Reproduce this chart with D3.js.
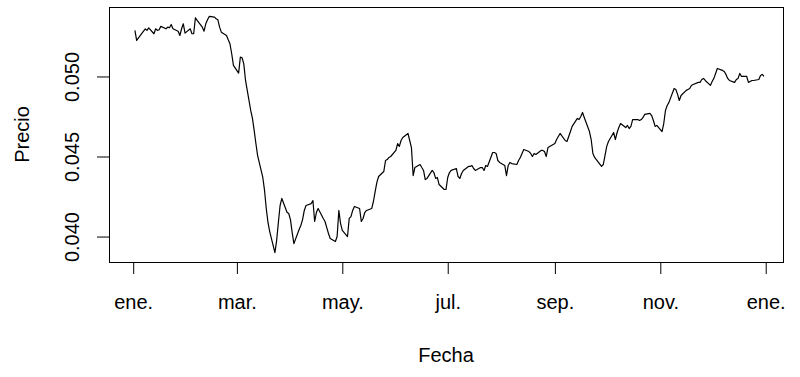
<!DOCTYPE html>
<html>
<head>
<meta charset="utf-8">
<script src="https://cdn.jsdelivr.net/npm/d3@7"></script>
<style>
  body { margin: 0; background: #fff; }
  text { font-family: "Liberation Sans", Arial, sans-serif; fill: #000; }
</style>
</head>
<body>
<div id="chart"></div>
<script>
// Precio diario (días hábiles, 2 ene 2020 - 31 dic 2020)
var precio = [
  0.05288, 0.05225,
  0.05269, 0.05283, 0.05297, 0.05288, 0.05303,
  0.05267, 0.05298, 0.05288, 0.05292, 0.05313,
  0.05298, 0.05308, 0.05304, 0.05325, 0.05298,
  0.05283, 0.05256, 0.05298, 0.05329, 0.05271,
  0.05298, 0.05267, 0.05267, 0.05367, 0.05350,
  0.05308, 0.05283, 0.05329, 0.05354, 0.05375,
  0.05371, 0.05361, 0.05354, 0.05308, 0.05277,
  0.05256, 0.05229, 0.05204, 0.05142, 0.05069,
  0.05021, 0.05121, 0.05117, 0.05079, 0.04975,
  0.04788, 0.04738, 0.04663, 0.04581, 0.04506,
  0.04369, 0.04288, 0.04175, 0.04088, 0.04031,
  0.03900, 0.03975, 0.04088, 0.04194, 0.04238,
  0.04152, 0.04144, 0.04106, 0.04025, 0.03956,
  0.04044, 0.04069, 0.04106, 0.04163, 0.04194,
  0.04206, 0.04225, 0.04094, 0.04150, 0.04175,
  0.04113, 0.04094, 0.04056, 0.04019, 0.03988,
  0.03969, 0.04000, 0.04163, 0.04081, 0.04038,
  0.04000, 0.04113, 0.04125, 0.04163, 0.04188,
  0.04175, 0.04094, 0.04113, 0.04150, 0.04163,
  0.04175, 0.04219, 0.04281, 0.04338, 0.04375,
  0.04406, 0.04475, 0.04481, 0.04494, 0.04500,
  0.04538, 0.04581, 0.04563, 0.04600, 0.04619,
  0.04644, 0.04600, 0.04556, 0.04381, 0.04431,
  0.04450, 0.04431, 0.04413, 0.04356, 0.04363,
  0.04413, 0.04400, 0.04363, 0.04369, 0.04325,
  0.04294, 0.04294, 0.04369, 0.04400, 0.04413,
  0.04425, 0.04375, 0.04363, 0.04394, 0.04413,
  0.04438, 0.04438, 0.04444, 0.04425, 0.04413,
  0.04431, 0.04431, 0.04413, 0.04444, 0.04438,
  0.04525, 0.04525, 0.04519, 0.04475, 0.04463,
  0.04444, 0.04381, 0.04444, 0.04463, 0.04456,
  0.04450, 0.04475, 0.04494, 0.04519, 0.04544,
  0.04531, 0.04519, 0.04500, 0.04519, 0.04513,
  0.04538, 0.04538, 0.04531, 0.04500, 0.04556,
  0.04575, 0.04581, 0.04606, 0.04625, 0.04644,
  0.04600, 0.04594, 0.04625, 0.04656, 0.04688,
  0.04738, 0.04731, 0.04750, 0.04775, 0.04744,
  0.04656, 0.04606, 0.04519, 0.04494, 0.04481,
  0.04438, 0.04450, 0.04506, 0.04563, 0.04594,
  0.04650, 0.04606, 0.04650, 0.04681, 0.04706,
  0.04681, 0.04694, 0.04675, 0.04688, 0.04731,
  0.04731, 0.04725, 0.04731, 0.04744, 0.04763,
  0.04769, 0.04756, 0.04725, 0.04688, 0.04694,
  0.04656, 0.04706, 0.04788, 0.04819, 0.04838,
  0.04925, 0.04919, 0.04888, 0.04850, 0.04881,
  0.04913, 0.04919, 0.04925, 0.04944, 0.04950,
  0.04963, 0.04963, 0.04981, 0.04988, 0.04975,
  0.04944, 0.04969, 0.04988, 0.05019, 0.05050,
  0.05038, 0.05031, 0.05013, 0.04988, 0.04975,
  0.04963, 0.04981, 0.04988, 0.05019, 0.05000,
  0.05000, 0.04963, 0.04969, 0.04975, 0.04975,
  0.04981, 0.05006, 0.05013, 0.05000
];

var fechaInicio = "2020-01-02";
var fechaFin = "2020-12-31";
var xLimites = ["2019-12-18", "2021-01-11"];

var xTickFechas = ["2020-01-01", "2020-03-01", "2020-05-01", "2020-07-01", "2020-09-01", "2020-11-01", "2021-01-01"];
var xTickLabels = ["ene.", "mar.", "may.", "jul.", "sep.", "nov.", "ene."];
var yTicks = [0.040, 0.045, 0.050];
var yTickLabels = ["0.040", "0.045", "0.050"];

var tituloX = "Fecha";
var tituloY = "Precio";

// dias habiles (lun-vie)
var fechas = d3.utcDay.range(new Date(fechaInicio), d3.utcDay.offset(new Date(fechaFin), 1))
    .filter(function (d) { return d.getUTCDay() % 6 !== 0; });

var n = Math.min(fechas.length, precio.length);
var data = [];
for (var i = 0; i < n; i++) {
    data.push({ fecha: fechas[i], precio: precio[i] });
}

var width = 800,
    height = 377;
var box = { left: 109, right: 783, top: 7, bottom: 262 };

var svg = d3.select("#chart")
    .append("svg")
    .attr("width", width)
    .attr("height", height);

var x = d3.scaleUtc()
    .domain(xLimites.map(function (d) { return new Date(d); }))
    .range([box.left, box.right]);

// rango como en R: extension del 4%
var ext = d3.extent(precio);
var pad = (ext[1] - ext[0]) * 0.04;
var y = d3.scaleLinear()
    .domain([ext[0] - pad, ext[1] + pad])
    .range([box.bottom, box.top]);

// linea
var line = d3.line()
    .x(function (d) { return x(d.fecha); })
    .y(function (d) { return y(d.precio); });

svg.append("path")
    .datum(data)
    .attr("d", line)
    .attr("fill", "none")
    .attr("stroke", "#000")
    .attr("stroke-width", 1.2)
    .attr("stroke-linejoin", "round");

// eje x
var xAxis = d3.axisBottom(x)
    .tickValues(xTickFechas.map(function (d) { return new Date(d); }))
    .tickSize(12)
    .tickFormat(function (d, i) { return xTickLabels[i]; });

var gx = svg.append("g")
    .attr("transform", "translate(0," + box.bottom + ")")
    .call(xAxis);
gx.select(".domain").remove();
gx.selectAll("line").attr("stroke", "#000");
gx.selectAll("text")
    .attr("y", 47)
    .attr("dy", null)
    .style("font-size", "20px")
    .attr("fill", "#000");

// eje y
var yAxis = d3.axisLeft(y)
    .tickValues(yTicks)
    .tickSize(12)
    .tickFormat(function (d, i) { return yTickLabels[i]; });

var gy = svg.append("g")
    .attr("transform", "translate(" + box.left + ",0)")
    .call(yAxis);
gy.select(".domain").remove();
gy.selectAll("line").attr("stroke", "#000");
gy.selectAll("text")
    .attr("transform", "rotate(-90)")
    .attr("x", 0)
    .attr("y", -37)
    .attr("dy", "0.35em")
    .attr("text-anchor", "middle")
    .style("font-size", "20px")
    .attr("fill", "#000");

// caja
svg.append("rect")
    .attr("x", box.left + 0.5)
    .attr("y", box.top + 0.5)
    .attr("width", box.right - box.left)
    .attr("height", box.bottom - box.top)
    .attr("fill", "none")
    .attr("stroke", "#000")
    .attr("stroke-width", 1);

// titulos
svg.append("text")
    .attr("x", (box.left + box.right) / 2)
    .attr("y", 362)
    .attr("text-anchor", "middle")
    .style("font-size", "20px")
    .text(tituloX);

svg.append("text")
    .attr("transform", "translate(29," + (box.top + box.bottom) / 2 + ") rotate(-90)")
    .attr("text-anchor", "middle")
    .style("font-size", "20px")
    .text(tituloY);
</script>
</body>
</html>
